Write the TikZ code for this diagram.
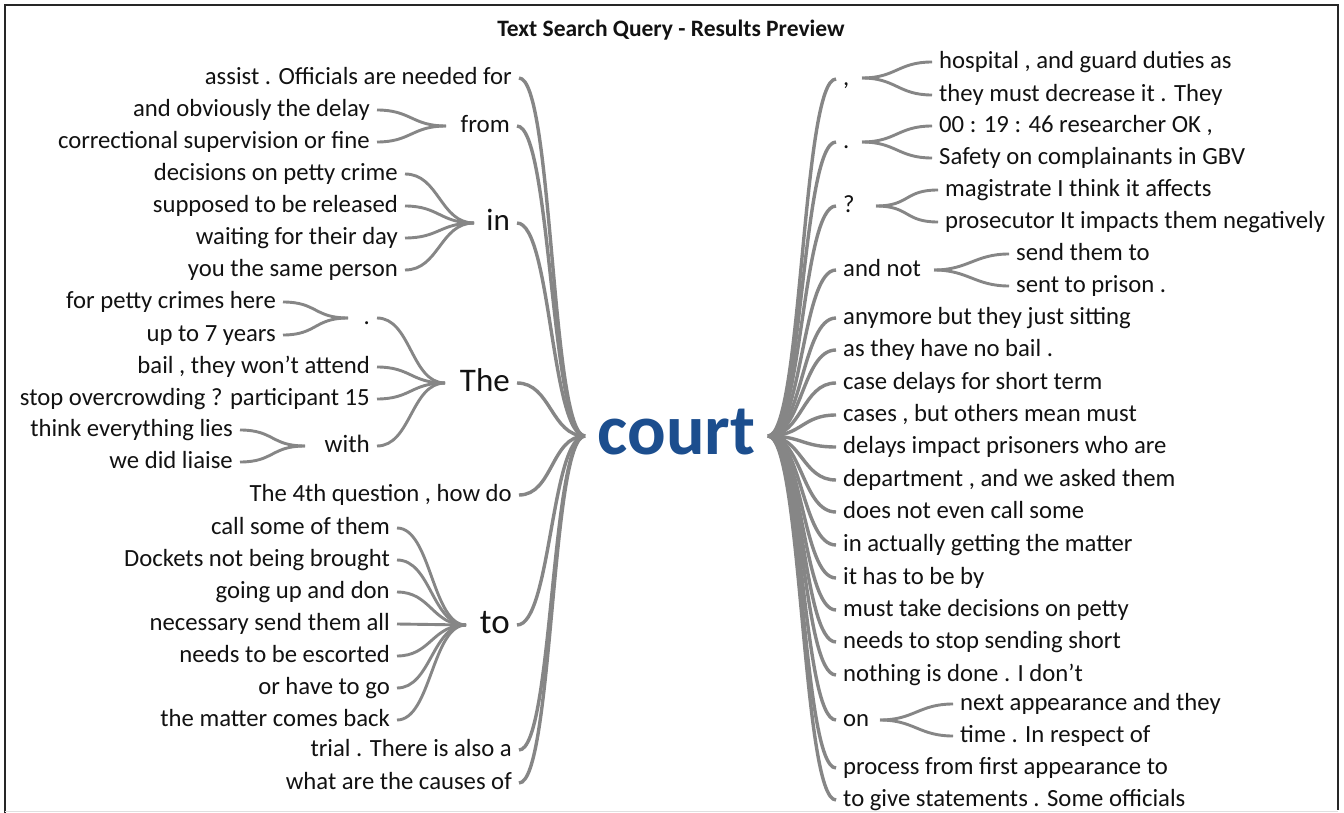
\documentclass[tikz,border=0pt]{standalone}
\usepackage{fontspec}
\setmainfont{Carlito}
\definecolor{lnk}{RGB}{134,134,134}
\definecolor{courtblue}{RGB}{28,78,142}
\definecolor{txt}{RGB}{18,18,18}
\begin{document}
\begin{tikzpicture}[x=1pt,y=-1pt,
  lbl/.style={font=\fontsize{24.7}{24.7}\selectfont, text=txt, inner xsep=7pt, inner ysep=0pt, text height=17.5pt, text depth=5pt},
  L/.style={lbl, anchor=east},
  R/.style={lbl, anchor=west},
  big/.style={font=\fontsize{#1}{#1}\selectfont, text height=0.7*#1, text depth=0.2*#1},
  lk/.style={draw=lnk, line width=3.4pt, to path={.. controls +(34,0) and +(-34,0) .. (\tikztotarget)}},
  sk/.style={draw=lnk, line width=2.9pt, to path={.. controls +(34,0) and +(-34,0) .. (\tikztotarget)}}
]
\useasboundingbox (0,0) rectangle (1344,813);
\fill[white] (0,0) rectangle (1344,813);
% frame
\draw[black!85, line width=2pt] (4.5,813) -- (4.5,5) -- (1337.5,5) -- (1337.5,810);
\draw[black!12, line width=1.5pt] (4.5,811.5) -- (1337.5,811.5);

\node[font=\fontsize{23.5}{23.5}\selectfont\bfseries, text=txt] (title) at (671,30) {Text Search Query - Results Preview};

% centre
\node[font=\fontsize{72}{72}\selectfont\bfseries, text=courtblue, inner sep=0pt, text height=36pt, text depth=0pt] (court) at (676.5,436) {court};
\coordinate (cl) at (585,436);
\coordinate (cr) at (768,436);

% ---------- left, first level
\node[L] (a1) at (519,78) {assist . Officials are needed for};
\node[L, big=25] (from) at (517,126) {from};
\node[L, big=31] (in) at (517,223) {in};
\node[L, big=33] (The) at (517,383) {The};
\node[L] (q4) at (519,495) {The 4th question , how do};
\node[L, big=35] (to) at (517,625) {to};
\node[L] (trial) at (519,750) {trial . There is also a};
\node[L] (causes) at (519,783) {what are the causes of};

% from
\node[L] (delay) at (377,110) {and obviously the delay};
\node[L] (correc) at (377,142) {correctional supervision or fine};
\coordinate (vfrom) at (446,126);
% in
\node[L] (decis) at (405,174) {decisions on petty crime};
\node[L] (suppo) at (405,206) {supposed to be released};
\node[L] (waiti) at (405,238) {waiting for their day};
\node[L] (yousa) at (405,270) {you the same person};
\coordinate (vin) at (474,223);
% The
\node[L] (dotl) at (377,318) {.};
\node[L] (bail) at (377,367) {bail , they won't attend};
\node[L] (stopo) at (377,399) {stop overcrowding ? participant 15};
\node[L, big=25] (with) at (377,446) {with};
\coordinate (vThe) at (445,383);
% .
\node[L] (forpe) at (283,302) {for petty crimes here};
\node[L] (upto) at (283,335) {up to 7 years};
\coordinate (vdot) at (348,318);
% with
\node[L] (think) at (240,430) {think everything lies};
\node[L] (liais) at (240,462) {we did liaise};
\coordinate (vwith) at (305,446);
% to
\node[L] (callso) at (397,528) {call some of them};
\node[L] (docke) at (397,560) {Dockets not being brought};
\node[L] (going) at (397,592) {going up and don};
\node[L] (neces) at (397,624) {necessary send them all};
\node[L] (escor) at (397,656) {needs to be escorted};
\node[L] (orhav) at (397,688) {or have to go};
\node[L] (matte) at (397,720) {the matter comes back};
\coordinate (vto) at (466,625);

% ---------- right, first level
\node[R] (comma) at (836,79) {,};
\node[R] (dotr) at (836,142) {.};
\node[R] (qm) at (836,206) {?};
\node[R] (andnot) at (836,270) {and not};
\node[R] (anymo) at (836,318) {anymore but they just sitting};
\node[R] (asthe) at (836,350) {as they have no bail .};
\node[R] (cased) at (836,383) {case delays for short term};
\node[R] (cases) at (836,415) {cases , but others mean must};
\node[R] (delim) at (836,447) {delays impact prisoners who are};
\node[R] (depar) at (836,480) {department , and we asked them};
\node[R] (doesn) at (836,512) {does not even call some};
\node[R] (inact) at (836,545) {in actually getting the matter};
\node[R] (ithas) at (836,578) {it has to be by};
\node[R] (mustt) at (836,610) {must take decisions on petty};
\node[R] (needs) at (836,642) {needs to stop sending short};
\node[R] (nothi) at (836,675) {nothing is done . I don't};
\node[R] (on) at (836,720) {on};
\node[R] (proce) at (836,768) {process from first appearance to};
\node[R] (togiv) at (836,800) {to give statements . Some officials};

% right children
\coordinate (vcomma) at (862,78);
\node[R] (hospi) at (932,62) {hospital , and guard duties as};
\node[R] (theym) at (932,95) {they must decrease it . They};
\coordinate (vdotr) at (862,142);
\node[R] (resea) at (932,126) {00 : 19 : 46 researcher OK ,};
\node[R] (safet) at (932,158) {Safety on complainants in GBV};
\coordinate (vqm) at (876,206);
\node[R] (magis) at (938,190) {magistrate I think it affects};
\node[R] (prose) at (938,222) {prosecutor It impacts them negatively};
\coordinate (vandnot) at (934,270);
\node[R] (sendt) at (1009,254) {send them to};
\node[R] (sentt) at (1009,286) {sent to prison .};
\coordinate (von) at (880,720);
\node[R] (nexta) at (953,704) {next appearance and they};
\node[R] (timei) at (953,736) {time . In respect of};

% ---------- connectors left
\foreach \n in {a1,from,in,The,q4,to,trial,causes}
  \draw[lk] (\n.east) to (cl);
\foreach \n in {delay,correc} \draw[sk] (\n.east) to (vfrom);
\foreach \n in {decis,suppo,waiti,yousa} \draw[sk] (\n.east) to (vin);
\foreach \n in {dotl,bail,stopo,with} \draw[sk] (\n.east) to (vThe);
\foreach \n in {forpe,upto} \draw[sk] (\n.east) to (vdot);
\foreach \n in {think,liais} \draw[sk] (\n.east) to (vwith);
\foreach \n in {callso,docke,going,neces,escor,orhav,matte} \draw[sk] (\n.east) to (vto);

% ---------- connectors right
\foreach \n in {comma,dotr,qm,andnot,anymo,asthe,cased,cases,delim,depar,doesn,inact,ithas,mustt,needs,nothi,on,proce,togiv}
  \draw[lk] (cr) to (\n.west);
\foreach \n in {hospi,theym} \draw[sk] (vcomma) to (\n.west);
\foreach \n in {resea,safet} \draw[sk] (vdotr) to (\n.west);
\foreach \n in {magis,prose} \draw[sk] (vqm) to (\n.west);
\foreach \n in {sendt,sentt} \draw[sk] (vandnot) to (\n.west);
\foreach \n in {nexta,timei} \draw[sk] (von) to (\n.west);
\end{tikzpicture}
\end{document}
